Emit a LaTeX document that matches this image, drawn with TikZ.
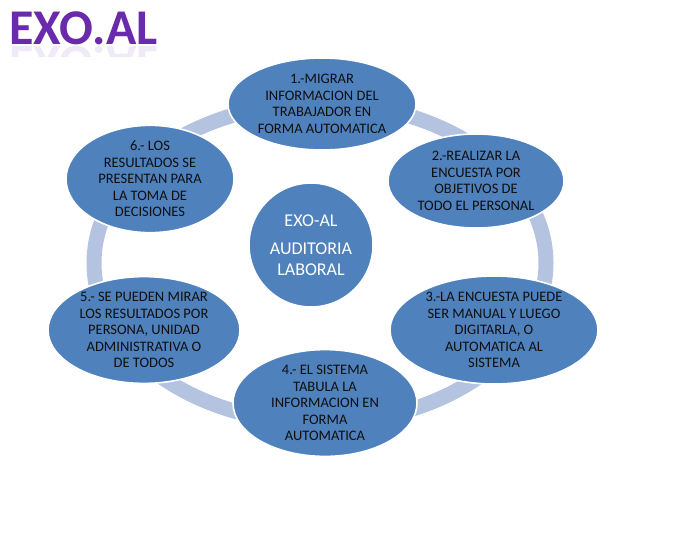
\documentclass[tikz,border=0pt]{standalone}
\usepackage{fontspec}
\setmainfont{Carlito}
\usetikzlibrary{shapes.geometric}
\definecolor{nodeblue}{RGB}{79,129,189}
\definecolor{ringcol}{RGB}{180,196,224}
\definecolor{titlepurple}{RGB}{106,42,172}
\definecolor{txtdark}{RGB}{15,15,15}
\tikzset{
  stepbox/.style={ellipse, fill=nodeblue, draw=white, line width=1.6pt, inner sep=0pt,
    align=center, text=txtdark, font=\fontsize{14.5}{16.5}\selectfont},
  hubbox/.style={circle, fill=nodeblue, draw=white, line width=1.6pt, inner sep=0pt,
    align=center, text=white, font=\fontsize{18}{21}\selectfont},
  titlestyle/.style={anchor=base west, inner sep=0pt, text=titlepurple,
    font=\fontsize{50}{50}\selectfont\bfseries}
}
\begin{document}
\begin{tikzpicture}[x=1pt,y=-1pt]
\useasboundingbox (0,0) rectangle (678,547);
% title
\node[titlestyle] (title) at (9,44) {EXO.AL};
\begin{scope}
  \clip (0,45) rectangle (200,56);
  \node[titlestyle, yscale=-1, transform shape, opacity=0.1] (titlerefl) at (9,46) {EXO.AL};
\end{scope}
% ring
\coordinate (ringc) at (320,263);
\draw[ringcol, line width=15pt] (ringc) ellipse [x radius=226pt, y radius=160pt];
% nodes
\node[stepbox, minimum width=188pt, minimum height=92pt] (n1) at (322,104)
  {1.-MIGRAR\\INFORMACION DEL\\TRABAJADOR EN\\FORMA AUTOMATICA};
\node[stepbox, minimum width=176pt, minimum height=94pt] (n2) at (476,181)
  {2.-REALIZAR LA\\ENCUESTA POR\\OBJETIVOS DE\\TODO EL PERSONAL};
\node[stepbox, minimum width=208pt, minimum height=108pt] (n3) at (494,330)
  {3.-LA ENCUESTA PUEDE\\SER MANUAL Y LUEGO\\DIGITARLA, O\\AUTOMATICA AL\\SISTEMA};
\node[stepbox, minimum width=184pt, minimum height=94pt] (n4) at (325,403)
  {4.- EL SISTEMA\\TABULA LA\\INFORMACION EN\\FORMA\\AUTOMATICA};
\node[stepbox, minimum width=192pt, minimum height=100pt] (n5) at (144,330)
  {5.- SE PUEDEN MIRAR\\LOS RESULTADOS POR\\PERSONA, UNIDAD\\ADMINISTRATIVA O\\DE TODOS};
\node[stepbox, minimum width=168pt, minimum height=88pt] (n6) at (150,179)
  {6.- LOS\\RESULTADOS SE\\PRESENTAN PARA\\LA TOMA DE\\DECISIONES};
\node[hubbox, minimum size=124pt] (hub) at (311,245)
  {EXO-AL\\[7pt]AUDITORIA\\LABORAL};
\end{tikzpicture}
\end{document}
